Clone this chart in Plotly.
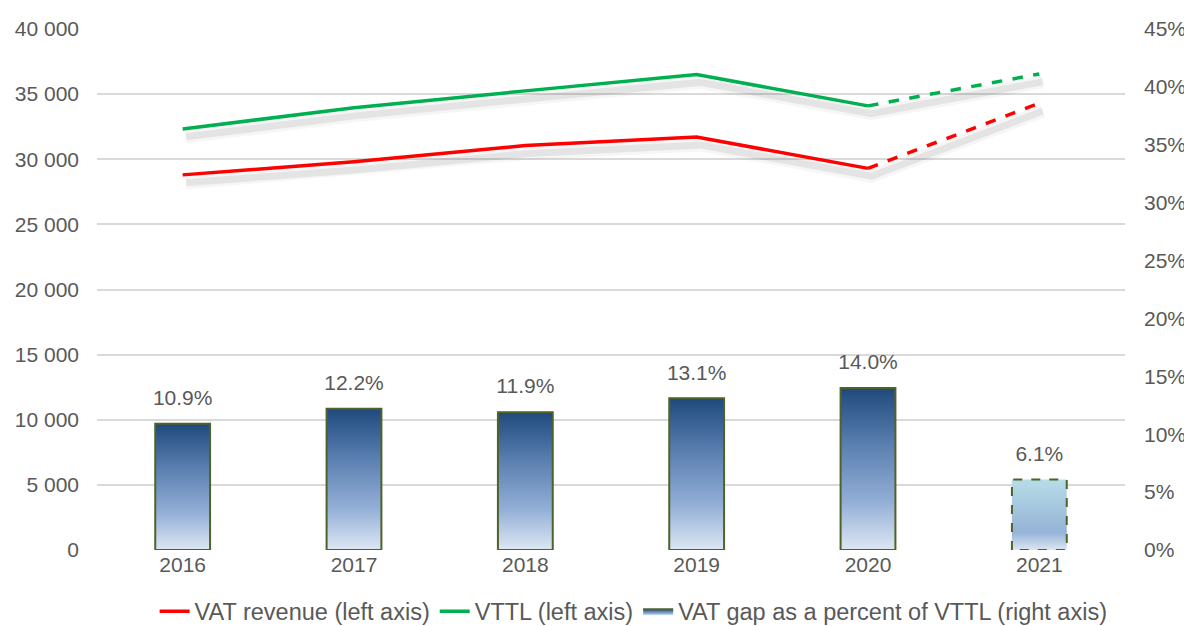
import plotly.graph_objects as go

years = ['2016', '2017', '2018', '2019', '2020', '2021']
vat_revenue = [28800, 29800, 31050, 31700, 29300, 34300]
vttl = [32330, 33950, 35250, 36500, 34100, 36550]
gap_pct = [0.109, 0.122, 0.119, 0.131, 0.140, 0.061]

idx = list(range(len(years)))
n_actual = 5  # 2021 is a projection (dashed)

font = 'Liberation Sans, Arial, sans-serif'
grey_txt = '#595959'
fs = 21

fig = go.Figure()

# soft drop shadows under the lines
shadow_dx, shadow_dy = 0.02, 600
for vals in (vat_revenue, vttl):
    for w, a in ((13, 0.035), (7, 0.07)):
        fig.add_trace(go.Scatter(
            x=[i + shadow_dx for i in idx], y=[v - shadow_dy for v in vals],
            mode='lines', line=dict(color=f'rgba(0,0,0,{a})', width=w),
            showlegend=False, hoverinfo='skip'))

# gap bars (right axis), gradient fill
half = 0.16
for i, p in zip(idx, gap_pct):
    projected = i >= n_actual
    if projected:
        cs = [[0, '#dce6f2'], [0.25, '#95b3d7'], [1, '#b7dde8']]
    else:
        cs = [[0, '#dde7f3'], [0.3, '#92aed6'], [0.65, '#5a7fb0'], [1, '#1f497d']]
    fig.add_trace(go.Scatter(
        x=[i - half, i - half, i + half, i + half, i - half],
        y=[0, p, p, 0, 0],
        yaxis='y2', mode='lines', fill='toself',
        fillgradient=dict(type='vertical', colorscale=cs),
        line=dict(color='#4f6228', width=2, dash='dash' if projected else 'solid'),
        name='VAT gap as a percent of VTTL (right axis)',
        legendgroup='gap', showlegend=(i == 0), legendrank=3,
        hoverinfo='skip'))

fig.add_trace(go.Scatter(
    x=idx, y=gap_pct, yaxis='y2', mode='markers+text',
    marker=dict(size=20, color='rgba(0,0,0,0)'),
    texttemplate='%{y:.1%}', textposition='top center',
    textfont=dict(size=fs, color=grey_txt, family=font),
    showlegend=False, hoverinfo='skip'))

# lines (left axis)
for name, vals, color, rank in (('VAT revenue (left axis)', vat_revenue, '#ff0000', 1),
                                ('VTTL (left axis)', vttl, '#00b050', 2)):
    fig.add_trace(go.Scatter(
        x=idx[:n_actual], y=vals[:n_actual], mode='lines',
        line=dict(color=color, width=3.5), name=name,
        legendgroup=name, legendrank=rank))
    fig.add_trace(go.Scatter(
        x=idx[n_actual - 1:], y=vals[n_actual - 1:], mode='lines',
        line=dict(color=color, width=3.5, dash='dash'), name=name,
        legendgroup=name, showlegend=False))

# page body has an 8px margin, so the figure is sized/offset to compensate
fig.update_layout(
    width=1184, height=618,
    margin=dict(l=89, r=67, t=21, b=76, autoexpand=False),
    plot_bgcolor='white', paper_bgcolor='white',
    separators='. ',
    font=dict(family=font, size=fs, color=grey_txt),
    xaxis=dict(range=[-0.5, 5.5], tickvals=idx, ticktext=years,
               showgrid=False, zeroline=False, showline=False, ticks='',
               tickfont=dict(size=fs, color=grey_txt)),
    yaxis=dict(range=[0, 40000], dtick=5000, tickformat=',',
               showgrid=True, gridcolor='#d9d9d9', gridwidth=1.5,
               zeroline=False, showline=False, ticks='', ticklabelstandoff=17,
               tickfont=dict(size=fs, color=grey_txt)),
    yaxis2=dict(range=[0, 0.45], dtick=0.05, tickformat='.0%', overlaying='y',
                side='right', showgrid=False, zeroline=False, showline=False,
                ticks='', ticklabelstandoff=18,
                tickfont=dict(size=fs, color=grey_txt)),
    legend=dict(orientation='h', x=0.522, xanchor='center', y=-0.118,
                yanchor='middle', font=dict(size=23.5, color=grey_txt, family=font),
                bgcolor='rgba(0,0,0,0)'),
)

fig.write_html('out.html', config={'displayModeBar': False})
